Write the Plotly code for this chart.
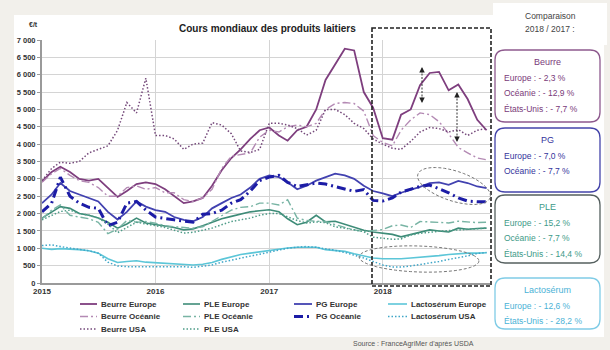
import plotly.graph_objects as go
import pandas as pd
import math

# ---------------- data (monthly, Jan 2015 -> Dec 2018), EUR/t ----------------
months = pd.date_range("2015-01-01", periods=48, freq="MS")

beurre_europe = [2920, 3200, 3350, 3200, 3000, 2950, 3000, 2750, 2480, 2650, 2850, 2900,
                 2850, 2700, 2500, 2300, 2350, 2450, 2800, 3250, 3600, 3850, 4150, 4400,
                 4480, 4250, 4100, 4400, 4500, 5000, 5850, 6300, 6750, 6700, 5500, 5050,
                 4170, 4130, 4850, 5000, 5700, 6050, 6080, 5550, 5720, 5300, 4700, 4400]
beurre_oceanie = [2900, 3150, 3300, 3100, 2950, 2900, 2750, 2500, 2500, 2750, 2800, 2700,
                  2750, 2600, 2600, 2400, 2350, 2450, 2700, 3300, 3650, 3700, 3750, 4200,
                  4400, 4350, 4500, 4550, 4500, 4600, 5000, 5170, 5200, 5170, 4950, 4250,
                  4050, 3950, 4400, 4700, 4900, 4850, 4650, 4300, 3900, 3750, 3600, 3550]
beurre_usa = [2950, 3300, 3480, 3450, 3500, 3750, 3850, 3950, 4400, 5200, 4900, 5900,
              4250, 4250, 4150, 3850, 4000, 4030, 4620, 4550, 4300, 3800, 3760, 3850,
              4600, 4600, 4550, 4450, 4260, 4400, 5000, 5000, 4850, 4600, 4450, 4150,
              4000, 3880, 3850, 4080, 4350, 4480, 4450, 4350, 4420, 4250, 4400, 4450]
pg_europe = [2300, 2550, 2880, 2650, 2550, 2450, 2350, 2050, 1830, 2050, 2350, 2200,
             2100, 2050, 1900, 1820, 1780, 1900, 2150, 2300, 2450, 2550, 2750, 3000,
             3100, 3050, 2900, 2700, 2800, 2950, 3050, 3150, 3100, 3000, 2800, 2650,
             2580, 2500, 2600, 2680, 2770, 2880, 2900, 2830, 2940, 2880, 2780, 2730]
pg_oceanie = [2050, 2300, 3050, 2500, 2300, 2180, 2150, 1650, 1750, 2300, 2350, 2100,
              1900, 1850, 1820, 1780, 1750, 1980, 2000, 2100, 2300, 2400, 2650, 2950,
              3050, 3100, 2900, 2780, 2830, 2880, 2850, 2780, 2700, 2640, 2690, 2380,
              2360, 2450, 2620, 2700, 2780, 2820, 2720, 2600, 2450, 2360, 2340, 2340]
ple_europe = [1870, 2050, 2200, 2150, 2000, 1950, 1870, 1750, 1580, 1700, 1870, 1730,
              1680, 1650, 1600, 1530, 1560, 1650, 1750, 1850, 1920, 1980, 2050, 2080,
              2110, 2050, 1850, 1680, 1750, 1950, 1760, 1780, 1700, 1600, 1520, 1470,
              1440, 1400, 1330, 1400, 1480, 1530, 1500, 1470, 1580, 1550, 1570, 1580]
ple_oceanie = [1850, 2100, 2250, 1950, 1900, 1850, 1750, 1420, 1550, 1800, 1750, 1770,
               1720, 1650, 1620, 1600, 1580, 1620, 1780, 1950, 2100, 2180, 2200, 2300,
               2300, 2250, 2400, 1870, 1800, 1780, 1770, 1680, 1600, 1530, 1480, 1500,
               1540, 1650, 1670, 1600, 1770, 1760, 1740, 1730, 1780, 1760, 1740, 1750]
ple_usa = [1820, 1950, 2060, 2100, 2000, 1950, 1870, 1700, 1450, 1600, 1750, 1700,
           1650, 1600, 1520, 1440, 1460, 1520, 1580, 1680, 1770, 1820, 1870, 1950,
           2000, 2000, 1900, 1800, 1730, 1760, 1740, 1620, 1580, 1520, 1480, 1320,
           1300, 1260, 1270, 1380, 1430, 1470, 1490, 1510, 1530, 1550, 1570, 1580]
lacto_europe = [1000, 970, 990, 980, 960, 930, 860, 700, 590, 620, 640, 600,
                580, 560, 540, 530, 520, 540, 590, 680, 760, 820, 860, 900,
                950, 990, 1010, 1030, 1040, 1030, 960, 930, 910, 840, 780, 720,
                700, 690, 700, 720, 750, 770, 790, 820, 850, 860, 860, 870]
lacto_usa = [1080, 1100, 1050, 1000, 970, 930, 860, 600, 490, 470, 470, 470,
             480, 480, 480, 470, 450, 480, 520, 600, 660, 730, 780, 830,
             900, 960, 1000, 1030, 1050, 1030, 990, 940, 880, 810, 720, 620,
             520, 460, 460, 490, 530, 580, 620, 680, 720, 780, 850, 880]

year_ticks = ["2015-01-01", "2016-01-01", "2017-01-01", "2018-01-01"]
year_labels = ["2015", "2016", "2017", "2018"]
y_ticks = [0, 500, 1000, 1500, 2000, 2500, 3000, 3500, 4000, 4500, 5000, 5500, 6000, 6500, 7000]

box_beurre = ["Europe : - 2,3 %", "Océanie : - 12,9 %", "États-Unis : - 7,7 %"]
box_pg = ["Europe : - 7,0 %", "Océanie : - 7,7 %"]
box_ple = ["Europe : - 15,2 %", "Océanie : - 7,7 %", "États-Unis : - 14,4 %"]
box_lacto = ["Europe : - 12,6 %", "États-Unis : - 28,2 %"]

DOT = "1.5px,2px"
DASHDOT = "8px,3px,2px,3px"
# ---------------- series styles (legend order = row-major, 4 columns) ----------------
series = [
    ("Beurre Europe", beurre_europe, "#7E3E7E", "solid", 1.8),
    ("PLE Europe", ple_europe, "#3E8C78", "solid", 1.6),
    ("PG Europe", pg_europe, "#4242B0", "solid", 1.8),
    ("Lactosérum Europe", lacto_europe, "#5CC6D8", "solid", 1.6),
    ("Beurre Océanie", beurre_oceanie, "#B48AB4", DASHDOT, 1.4),
    ("PLE Océanie", ple_oceanie, "#78B4A4", DASHDOT, 1.4),
    ("PG Océanie", pg_oceanie, "#1C1CA6", "9px,4px,2px,4px", 3.0),
    ("Lactosérum USA", lacto_usa, "#3FA6C8", DOT, 1.5),
    ("Beurre USA", beurre_usa, "#74487A", DOT, 1.5),
    ("PLE USA", ple_usa, "#4E9C88", DOT, 1.5),
]

fig = go.Figure()
for name, vals, col, dash, w in series:
    fig.add_trace(go.Scatter(
        x=months, y=vals, mode="lines", name=name,
        line=dict(color=col, width=w, dash=dash),
        hoverinfo="skip", showlegend=False,
    ))

# ---------------- helpers: pixel -> paper ----------------
L, R, T, B = 42, 490, 40, 283
W, H = R - L, B - T


def px(x):
    return (x - L) / W


def py(y):
    return (B - y) / H


def rrect(x0, y0, x1, y1, r):
    pts = [
        f"M {px(x0 + r)} {py(y0)}", f"L {px(x1 - r)} {py(y0)}",
        f"Q {px(x1)} {py(y0)} {px(x1)} {py(y0 + r)}", f"L {px(x1)} {py(y1 - r)}",
        f"Q {px(x1)} {py(y1)} {px(x1 - r)} {py(y1)}", f"L {px(x0 + r)} {py(y1)}",
        f"Q {px(x0)} {py(y1)} {px(x0)} {py(y1 - r)}", f"L {px(x0)} {py(y0 + r)}",
        f"Q {px(x0)} {py(y0)} {px(x0 + r)} {py(y0)}", "Z",
    ]
    return " ".join(pts)


def ellipse(cx, cy, a, b, ang_deg, n=48):
    ang = math.radians(ang_deg)
    p = []
    for i in range(n + 1):
        t = 2 * math.pi * i / n
        x = cx + a * math.cos(t) * math.cos(ang) - b * math.sin(t) * math.sin(ang)
        y = cy + a * math.cos(t) * math.sin(ang) + b * math.sin(t) * math.cos(ang)
        p.append(("M " if i == 0 else "L ") + f"{px(x)} {py(y)}")
    return " ".join(p) + " Z"


shapes = []
annotations = []
# white panels
shapes.append(dict(type="rect", xref="paper", yref="paper", x0=px(14), x1=px(604), y0=py(15), y1=py(337),
                   fillcolor="white", line=dict(width=0), layer="below"))
shapes.append(dict(type="rect", xref="paper", yref="paper", x0=px(493), x1=px(607), y0=py(3), y1=py(45),
                   fillcolor="white", line=dict(width=0), layer="below"))
# dashed focus box
shapes.append(dict(type="rect", xref="paper", yref="paper", x0=px(372), x1=px(491), y0=py(28), y1=py(286),
                   line=dict(color="#222222", width=1.6, dash="4px,2px"), fillcolor="rgba(0,0,0,0)"))
# ellipses
shapes.append(dict(type="path", xref="paper", yref="paper", path=ellipse(454, 186, 38, 15, 18),
                   line=dict(color="#777777", width=1, dash="3px,2px")))
shapes.append(dict(type="path", xref="paper", yref="paper", path=ellipse(419, 259, 60, 13, 2),
                   line=dict(color="#777777", width=1, dash="3px,2px")))

# double arrows with dotted shafts
for xa, ya0, ya1 in [(422, 67, 103), (457, 92, 142)]:
    shapes.append(dict(type="line", xref="paper", yref="paper", x0=px(xa), x1=px(xa), y0=py(ya0 + 3),
                       y1=py(ya1 - 3), line=dict(color="#333333", width=1, dash="2px,1.5px")))
    annotations.append(dict(xref="paper", yref="paper", x=px(xa), y=py(ya0), ax=0, ay=7, text="",
                            showarrow=True, arrowhead=2, arrowsize=1.1, arrowwidth=1, arrowcolor="#222222"))
    annotations.append(dict(xref="paper", yref="paper", x=px(xa), y=py(ya1), ax=0, ay=-7, text="",
                            showarrow=True, arrowhead=2, arrowsize=1.1, arrowwidth=1, arrowcolor="#222222"))

# ---------------- legend (drawn below the plot, 4 columns x 3 rows) ----------------
leg_cols = [(80, 97), (183, 200), (294, 312), (388, 407)]
leg_rows = [304, 316.5, 329]
for i, (name, vals, col, dash, w) in enumerate(series):
    r, c = divmod(i, 4)
    xs0, xs1 = leg_cols[c]
    yy = leg_rows[r]
    shapes.append(dict(type="line", xref="paper", yref="paper", x0=px(xs0), x1=px(xs1), y0=py(yy), y1=py(yy),
                       line=dict(color=col, width=w, dash=dash)))
    annotations.append(dict(xref="paper", yref="paper", x=px(xs1 + 2), y=py(yy), text=name,
                            showarrow=False, xanchor="left", yanchor="middle",
                            font=dict(family="Liberation Sans, Arial", size=8, color="#333333", weight="bold")))

# right-side boxes
boxes = [
    (50, 122, "#8E5A8E", "#7A3A7A", "Beurre", box_beurre),
    (128, 192, "#4444AA", "#34349C", "PG", box_pg),
    (195, 263, "#55605F", "#3E9A88", "PLE", box_ple),
    (278, 329, "#80CCE6", "#4AB2D6", "Lactosérum", box_lacto),
]
for y0, y1, border, tcol, title, lines in boxes:
    shapes.append(dict(type="path", xref="paper", yref="paper", path=rrect(495, y0, 600, y1, 10),
                       line=dict(color=border, width=1.3), fillcolor="white"))
    annotations.append(dict(xref="paper", yref="paper", x=px(547), y=py(y0 + 12), text=title,
                            showarrow=False, xanchor="center", yanchor="middle",
                            font=dict(family="Liberation Sans, Arial", size=9, color=tcol)))
    for i, t in enumerate(lines):
        annotations.append(dict(xref="paper", yref="paper", x=px(502), y=py(y0 + 28 + 15.3 * i), text=t,
                                showarrow=False, xanchor="left", yanchor="middle",
                                font=dict(family="Liberation Sans, Arial", size=8.5, color=tcol)))

annotations += [
    dict(xref="paper", yref="paper", x=px(550), y=py(16), text="Comparaison", showarrow=False,
         xanchor="center", yanchor="middle", font=dict(family="Liberation Sans, Arial", size=8.5, color="#444444")),
    dict(xref="paper", yref="paper", x=px(550), y=py(29), text="2018 / 2017 :", showarrow=False,
         xanchor="center", yanchor="middle", font=dict(family="Liberation Sans, Arial", size=8.5, color="#444444")),
    dict(xref="paper", yref="paper", x=px(267), y=py(28), text="<b>Cours mondiaux des produits laitiers</b>",
         showarrow=False, xanchor="center", yanchor="middle",
         font=dict(family="Liberation Sans, Arial", size=10, color="#222222")),
    dict(xref="paper", yref="paper", x=px(33), y=py(25), text="<b>€/t</b>", showarrow=False,
         xanchor="center", yanchor="middle", font=dict(family="Liberation Sans, Arial", size=7, color="#333333")),
    dict(xref="paper", yref="paper", x=px(413), y=py(344), text="Source : FranceAgriMer d'après USDA",
         showarrow=False, xanchor="center", yanchor="middle",
         font=dict(family="Liberation Sans, Arial", size=7, color="#555555")),
]

fig.update_layout(
    width=610, height=350,
    margin=dict(l=L, r=610 - R, t=T, b=350 - B, pad=0, autoexpand=False),
    paper_bgcolor="#F2F0EB", plot_bgcolor="white",
    separators=", ",
    showlegend=False,
    shapes=shapes, annotations=annotations,
)
fig.update_xaxes(range=["2015-01-01", "2018-12-12"], tickvals=year_ticks, ticktext=year_labels,
                 showgrid=True, gridcolor="#D4D4D4", gridwidth=1, showline=True, linecolor="#9A9A9A",
                 linewidth=1.5, ticks="", tickfont=dict(family="Liberation Sans, Arial", size=8, color="#333333",
                                                      weight="bold"), zeroline=False)
fig.update_yaxes(range=[0, 7000], tickvals=y_ticks, tickformat=",.0f",
                 showgrid=True, gridcolor="#D4D4D4", gridwidth=1, showline=True, linecolor="#9A9A9A",
                 linewidth=2, ticks="outside", ticklen=3, tickcolor="#9A9A9A",
                 tickfont=dict(family="Liberation Sans, Arial", size=7.5, color="#333333", weight="bold"),
                 zeroline=False)

fig.write_html("out.html")
